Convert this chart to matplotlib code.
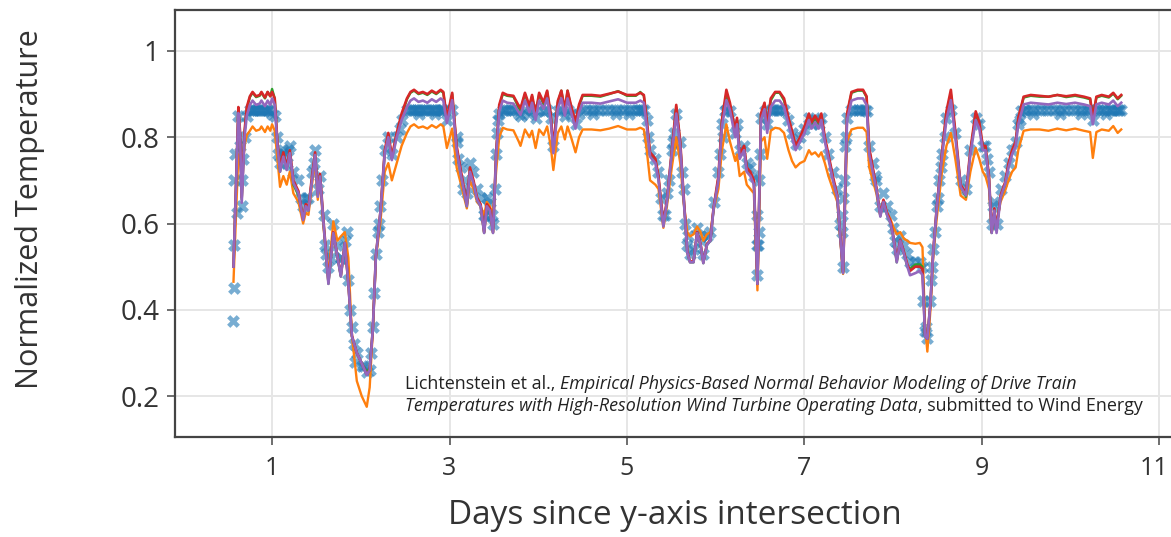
import matplotlib
matplotlib.use("Agg")
import matplotlib.pyplot as plt
from matplotlib.transforms import ScaledTranslation

plt.rcParams['font.family'] = ['Open Sans', 'DejaVu Sans']

# ---------------- data ----------------
days = [0.565, 0.62, 0.64, 0.658, 0.69, 0.715, 0.75, 0.78, 0.82, 0.86, 0.88, 0.92, 0.95, 0.98, 1.00, 1.03,
        1.06, 1.09, 1.127, 1.165, 1.20, 1.24, 1.297, 1.35, 1.38, 1.41, 1.45, 1.485, 1.515, 1.54, 1.58, 1.635,
        1.69, 1.736, 1.775, 1.82, 1.86, 1.90, 1.955, 2.01, 2.067, 2.10, 2.135, 2.17, 2.22, 2.27, 2.31, 2.35,
        2.405, 2.46, 2.52, 2.56, 2.60, 2.65, 2.70, 2.75, 2.80, 2.85, 2.90, 2.93, 2.97, 3.03, 3.08, 3.13,
        3.195, 3.23, 3.27, 3.31, 3.35, 3.39, 3.42, 3.455, 3.49, 3.525, 3.56, 3.60, 3.65, 3.72, 3.78, 3.80,
        3.85, 3.90, 3.93, 3.97, 4.01, 4.06, 4.10, 4.14, 4.17, 4.22, 4.26, 4.30, 4.33, 4.37, 4.42, 4.46,
        4.50, 4.60, 4.70, 4.80, 4.90, 5.00, 5.10, 5.15, 5.19, 5.22, 5.26, 5.32, 5.355, 5.41, 5.45, 5.505,
        5.555, 5.60, 5.637, 5.68, 5.71, 5.75, 5.79, 5.83, 5.86, 5.90, 5.94, 5.975, 6.03, 6.07, 6.12, 6.16,
        6.22, 6.24, 6.27, 6.32, 6.35, 6.39, 6.43, 6.47, 6.51, 6.55, 6.58, 6.62, 6.67, 6.72, 6.77, 6.82,
        6.86, 6.90, 6.95, 7.00, 7.05, 7.08, 7.12, 7.16, 7.19, 7.23, 7.27, 7.32, 7.37, 7.435, 7.48, 7.53,
        7.60, 7.66, 7.70, 7.73, 7.77, 7.81, 7.855, 7.89, 7.93, 7.97, 8.00, 8.04, 8.08, 8.12, 8.16, 8.19,
        8.25, 8.30, 8.33, 8.36, 8.385, 8.42, 8.45, 8.49, 8.55, 8.60, 8.65, 8.70, 8.76, 8.82, 8.87, 8.93,
        8.97, 9.01, 9.04, 9.08, 9.11, 9.14, 9.165, 9.21, 9.26, 9.30, 9.34, 9.38, 9.41, 9.47, 9.55, 9.65,
        9.75, 9.85, 9.95, 10.05, 10.15, 10.22, 10.25, 10.29, 10.35, 10.43, 10.48, 10.53, 10.57]

model_purple = [.50, .856, .80, .648, .80, .85, .875, .885, .875, .878, .885, .872, .885, .875, .89, .875,
                .78, .72, .755, .724, .763, .694, .67, .608, .64, .63, .70, .759, .662, .709, .60, .46,
                .578, .523, .477, .555, .46, .338, .30, .276, .249, .26, .353, .523, .624, .763, .80, .747,
                .80, .84, .87, .885, .89, .882, .885, .88, .888, .882, .89, .885, .833, .886, .77, .71,
                .64, .72, .693, .655, .64, .578, .64, .63, .578, .755, .86, .885, .88, .878, .858, .852,
                .885, .858, .88, .84, .885, .866, .89, .84, .763, .866, .89, .85, .89, .858, .82, .858,
                .88, .88, .878, .883, .888, .88, .88, .885, .88, .83, .755, .74, .70, .593, .65, .763,
                .855, .778, .662, .532, .51, .51, .578, .55, .508, .55, .56, .632, .70, .825, .886, .863,
                .80, .83, .75, .77, .72, .71, .69, .46, .84, .865, .81, .87, .885, .885, .87, .83,
                .80, .77, .79, .81, .84, .82, .835, .82, .84, .79, .75, .70, .66, .485, .84, .885,
                .89, .89, .875, .76, .72, .68, .616, .65, .62, .60, .57, .51, .56, .53, .50, .48,
                .485, .49, .48, .338, .333, .416, .53, .632, .755, .84, .886, .80, .685, .665, .76, .84,
                .82, .77, .77, .70, .578, .63, .578, .66, .69, .73, .76, .78, .83, .876, .88, .878,
                .876, .88, .877, .88, .876, .872, .83, .876, .88, .876, .885, .872, .88]

model_red = [.50, .87, .81, .66, .815, .87, .895, .905, .895, .898, .905, .892, .905, .895, .905, .89,
             .79, .73, .765, .73, .77, .70, .675, .61, .645, .635, .71, .765, .67, .715, .605, .465,
             .58, .525, .48, .555, .46, .34, .30, .276, .25, .26, .353, .525, .625, .77, .81, .755,
             .81, .855, .89, .905, .91, .902, .905, .90, .908, .902, .91, .905, .845, .903, .78, .72,
             .645, .73, .70, .66, .645, .58, .645, .635, .58, .765, .875, .903, .898, .896, .873, .867,
             .903, .873, .898, .855, .903, .881, .908, .855, .775, .884, .908, .865, .908, .873, .835, .876,
             .898, .898, .896, .901, .906, .898, .898, .903, .898, .845, .765, .75, .71, .60, .655, .77,
             .875, .79, .67, .535, .512, .512, .58, .552, .51, .552, .562, .635, .71, .84, .91, .88,
             .815, .845, .76, .78, .73, .72, .70, .46, .855, .88, .825, .89, .905, .905, .89, .845,
             .815, .78, .80, .825, .855, .835, .85, .835, .855, .80, .76, .71, .665, .487, .855, .905,
             .91, .91, .895, .775, .73, .685, .62, .655, .625, .605, .573, .515, .562, .535, .505, .49,
             .50, .50, .495, .34, .333, .416, .532, .635, .765, .86, .91, .815, .69, .67, .77, .86,
             .835, .78, .78, .71, .58, .635, .585, .665, .695, .74, .77, .79, .845, .894, .898, .896,
             .894, .898, .895, .898, .894, .89, .845, .894, .898, .894, .903, .89, .898]

model_green = [.50, .865, .805, .655, .81, .865, .893, .903, .893, .896, .903, .89, .905, .895, .912, .89,
               .785, .72, .76, .725, .765, .69, .665, .615, .64, .63, .705, .76, .665, .71, .60, .46,
               .578, .523, .477, .555, .46, .338, .30, .276, .255, .265, .353, .523, .624, .765, .805, .75,
               .805, .85, .888, .903, .908, .90, .903, .898, .906, .90, .908, .903, .84, .90, .775, .71,
               .64, .725, .695, .655, .64, .578, .64, .63, .578, .76, .87, .9, .896, .894, .868, .862,
               .9, .868, .895, .85, .9, .876, .906, .85, .77, .88, .908, .86, .908, .868, .83, .872,
               .896, .896, .894, .9, .907, .896, .896, .905, .896, .84, .76, .745, .705, .595, .65, .765,
               .87, .785, .665, .532, .51, .51, .578, .55, .508, .55, .56, .632, .705, .835, .90, .875,
               .81, .84, .755, .775, .725, .715, .695, .46, .85, .875, .82, .885, .903, .903, .885, .84,
               .81, .775, .795, .82, .85, .83, .845, .83, .85, .795, .755, .705, .66, .485, .85, .903,
               .908, .908, .893, .77, .725, .68, .617, .65, .62, .60, .57, .51, .56, .53, .50, .495,
               .505, .505, .50, .338, .333, .416, .53, .632, .76, .855, .90, .81, .685, .662, .765, .855,
               .83, .775, .775, .705, .578, .63, .59, .66, .69, .735, .765, .785, .84, .892, .896, .894,
               .894, .898, .893, .896, .892, .888, .84, .892, .896, .892, .901, .888, .896]

model_orange = [.465, .76, .75, .70, .78, .805, .815, .825, .815, .818, .825, .812, .825, .815, .83, .815,
                .75, .685, .71, .69, .72, .67, .65, .60, .625, .62, .69, .745, .655, .70, .59, .48,
                .605, .56, .57, .58, .52, .34, .235, .20, .175, .22, .35, .52, .60, .72, .74, .70,
                .74, .78, .81, .825, .83, .822, .825, .82, .828, .822, .83, .825, .775, .82, .73, .69,
                .635, .70, .68, .65, .64, .62, .65, .64, .62, .72, .80, .822, .818, .816, .79, .78,
                .818, .80, .815, .775, .818, .805, .825, .78, .724, .81, .825, .795, .825, .80, .765, .80,
                .818, .818, .816, .82, .826, .818, .818, .822, .818, .775, .70, .69, .68, .59, .64, .73,
                .80, .74, .65, .58, .57, .575, .593, .58, .56, .575, .58, .63, .68, .77, .83, .79,
                .745, .76, .71, .72, .69, .68, .67, .445, .79, .80, .75, .815, .822, .82, .81, .77,
                .745, .73, .74, .745, .77, .76, .765, .755, .765, .74, .71, .68, .65, .483, .79, .818,
                .822, .822, .812, .73, .70, .67, .62, .65, .625, .61, .593, .575, .58, .565, .56, .555,
                .553, .555, .545, .36, .303, .40, .52, .61, .72, .78, .81, .75, .665, .655, .72, .775,
                .75, .72, .71, .68, .58, .625, .60, .65, .675, .70, .72, .73, .77, .815, .818, .818,
                .815, .82, .816, .82, .815, .812, .752, .812, .818, .815, .826, .81, .818]

measured = [.373, .85, .78, .64, .80, .85, .862, .862, .862, .862, .862, .862, .862, .86, .855, .85,
            .80, .74, .77, .74, .78, .72, .70, .64, .66, .66, .72, .77, .68, .71, .62, .50,
            .60, .55, .52, .56, .47, .36, .30, .27, .255, .26, .36, .53, .64, .77, .80, .76,
            .80, .84, .862, .862, .862, .862, .862, .862, .862, .862, .862, .862, .84, .862, .79, .73,
            .67, .74, .72, .68, .66, .62, .66, .65, .60, .76, .855, .862, .862, .862, .855, .85,
            .862, .855, .862, .845, .862, .86, .862, .845, .78, .86, .862, .85, .862, .855, .83, .855,
            .862, .862, .862, .862, .862, .862, .862, .862, .862, .84, .77, .75, .72, .62, .67, .77,
            .855, .79, .68, .55, .53, .54, .59, .57, .53, .57, .58, .65, .72, .83, .862, .86,
            .81, .83, .77, .78, .74, .73, .71, .48, .845, .86, .83, .862, .862, .862, .862, .84,
            .81, .785, .80, .82, .845, .83, .84, .83, .845, .80, .76, .72, .68, .50, .845, .862,
            .862, .862, .86, .78, .74, .70, .64, .67, .64, .62, .59, .54, .57, .55, .53, .51,
            .51, .51, .50, .35, .335, .42, .54, .64, .76, .845, .862, .81, .70, .68, .77, .845,
            .83, .78, .78, .72, .60, .65, .60, .68, .71, .74, .77, .79, .83, .862, .862, .862,
            .862, .862, .862, .862, .862, .862, .84, .862, .862, .862, .862, .862, .862]

# additional measured points (steep segments and plateau band)
extra_days = [0.57, 0.57, 0.575, 0.58, 0.60, 0.66, 0.67, 1.88, 1.92, 2.15, 2.19, 2.24, 2.44,
              3.51, 3.54, 5.24, 5.47, 5.53, 5.65, 6.05, 6.10, 6.46, 6.46, 6.49, 6.49, 7.42, 7.42,
              7.45, 7.46, 8.34, 8.43, 8.47, 8.52, 1.61, 1.66, 3.17, 3.10, 1.07, 1.12, 1.18, 1.33,
              1.47, 5.38, 5.62, 7.40, 7.79, 8.02, 9.12, 9.44, 8.58, 9.06,
              1.60, 2.12, 2.20, 3.55, 5.52, 6.08, 6.50, 7.47, 8.44, 8.50, 8.54, 9.43, 5.43, 3.15,
              3.08, 1.93, 2.04, 8.37, 7.44, 6.48, 5.69, 5.85, 3.40, 3.48, 1.78, 1.84,
              0.77, 0.80, 0.84, 0.90, 0.94, 2.58, 2.62, 2.68, 2.72, 2.78, 2.82, 2.88, 2.91,
              3.62, 3.68, 3.75, 4.55, 4.65, 4.75, 4.85, 4.95, 5.05, 5.13, 5.17, 7.56, 7.63, 7.68,
              9.50, 9.60, 9.70, 9.80, 9.90, 10.00, 10.10, 10.19, 10.32, 10.39, 10.45, 10.51, 10.55,
              4.62, 4.88, 5.02, 9.58, 9.88, 10.12, 10.40, 2.66, 2.84, 6.70, 6.64]
extra_meas = [0.45, 0.55, 0.70, 0.76, 0.624, 0.70, 0.75, 0.40, 0.32, 0.44, 0.58, 0.70, 0.82,
              0.68, 0.81, 0.80, 0.70, 0.81, 0.60, 0.76, 0.86, 0.62, 0.55, 0.58, 0.70, 0.58, 0.62,
              0.70, 0.78, 0.42, 0.47, 0.58, 0.70, 0.53, 0.52, 0.70, 0.75, 0.76, 0.76, 0.77, 0.66,
              0.74, 0.66, 0.72, 0.60, 0.71, 0.56, 0.64, 0.86, 0.80, 0.75,
              0.55, 0.30, 0.60, 0.84, 0.79, 0.80, 0.76, 0.80, 0.50, 0.66, 0.73, 0.84, 0.62, 0.68,
              0.80, 0.28, 0.27, 0.36, 0.66, 0.55, 0.57, 0.56, 0.62, 0.62, 0.52, 0.58,
              0.862, 0.862, 0.862, 0.862, 0.862, 0.862, 0.862, 0.862, 0.862, 0.862, 0.862, 0.862, 0.862,
              0.862, 0.862, 0.862, 0.862, 0.862, 0.862, 0.862, 0.862, 0.862, 0.862, 0.862, 0.862, 0.862, 0.862,
              0.862, 0.862, 0.862, 0.862, 0.862, 0.862, 0.862, 0.862, 0.862, 0.862, 0.862, 0.862, 0.862,
              0.855, 0.855, 0.855, 0.855, 0.855, 0.855, 0.855, 0.855, 0.855, 0.862, 0.862]

x_ticks = [1, 3, 5, 7, 9, 11]
y_ticks = [0.2, 0.4, 0.6, 0.8, 1.0]
y_tick_labels = ['0.2', '0.4', '0.6', '0.8', '1']

# ---------------- figure ----------------
W, H = 1171, 537
fig = plt.figure(figsize=(W / 100, H / 100), dpi=100)
ax = fig.add_axes([175 / W, 100 / H, 1011 / W, 427 / H])

blue = '#1f77b4'
ax.scatter(days, measured, marker='X', s=85, color=blue, alpha=0.6, linewidths=0, zorder=2)
ax.scatter(extra_days, extra_meas, marker='X', s=85, color=blue, alpha=0.6, linewidths=0, zorder=2)
ax.plot(days, model_orange, color='#ff7f0e', lw=1.7, zorder=3)
ax.plot(days, model_green, color='#2ca02c', lw=1.7, zorder=4)
ax.plot(days, model_red, color='#d62728', lw=1.9, zorder=5)
ax.plot(days, model_purple, color='#9467bd', lw=1.9, zorder=6)

ax.set_xlim(-0.094, 11.30)
ax.set_ylim(0.105, 1.095)
ax.set_xticks(x_ticks)
ax.set_xticklabels([str(v) for v in x_ticks])
ax.set_yticks(y_ticks)
ax.set_yticklabels(y_tick_labels)

ax.grid(True, color='#e6e6e6', lw=1.4, zorder=0)
ax.set_axisbelow(True)
for side in ['top', 'left', 'bottom']:
    ax.spines[side].set_color('#444444')
    ax.spines[side].set_linewidth(1.6)
ax.spines['right'].set_visible(False)
ax.tick_params(axis='both', direction='out', length=6, width=1.2, color='#555555',
               labelsize=20, labelcolor='#333333')
ax.tick_params(axis='x', pad=8, labelsize=18)
ax.tick_params(axis='y', pad=5)

# keep the last x tick label inside the figure
last = ax.get_xticklabels()[-1]
last.set_transform(last.get_transform() + ScaledTranslation(-5 / 100, 0, fig.dpi_scale_trans))

fig.text(30 / W, 1 - 209 / H, 'Normalized Temperature', rotation=90, ha='center', va='center',
         fontsize=22, color='#333333')
fig.text(675 / W, 1 - 516 / H, 'Days since y-axis intersection', ha='center', va='center',
         fontsize=24, color='#333333')

# citation note
fs = 12.9
c = '#222222'
t1 = fig.text(405 / W, 1 - 384 / H, 'Lichtenstein et al., ', fontsize=fs, color=c, va='center', ha='left')
t2 = ax.annotate('Empirical Physics-Based Normal Behavior Modeling of Drive Train', xy=(1, 0),
                 xycoords=t1, va='bottom', ha='left', fontsize=fs, style='italic', color=c)
t3 = fig.text(405 / W, 1 - 406 / H, 'Temperatures with High-Resolution Wind Turbine Operating Data',
              fontsize=fs, style='italic', color=c, va='center', ha='left')
t4 = ax.annotate(', submitted to Wind Energy', xy=(1, 0), xycoords=t3, va='bottom', ha='left',
                 fontsize=fs, color=c)

fig.savefig('out.png', dpi=100)
